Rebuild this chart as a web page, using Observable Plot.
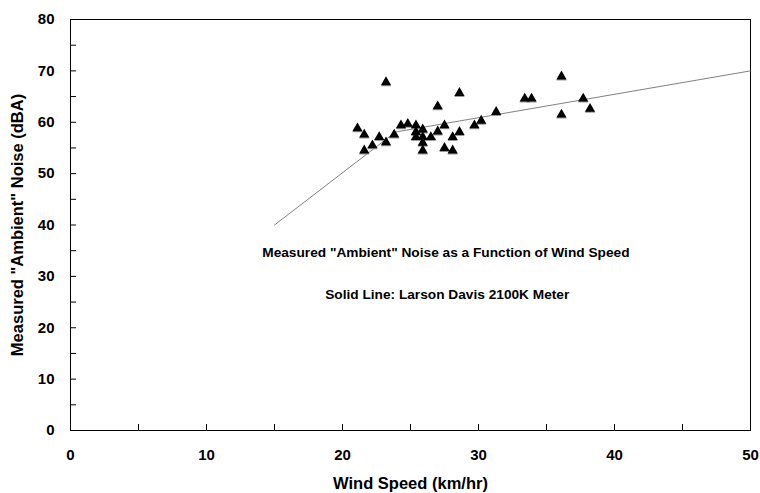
<!DOCTYPE html>
<html><head><meta charset="utf-8">
<script src="https://cdn.jsdelivr.net/npm/d3@7"></script>
<script src="https://cdn.jsdelivr.net/npm/@observablehq/plot@0.6"></script>
<style>body{margin:0;background:#fff}</style>
</head><body><div id="chart"></div>
<script>
const windSpeed = [21.1,21.6,21.6,22.2,22.7,23.2,23.2,23.8,24.3,24.8,25.4,25.4,25.4,25.9,25.9,25.9,25.9,26.5,27.0,27.0,27.5,27.5,28.1,28.1,28.6,28.6,29.7,30.2,31.3,33.4,33.9,36.1,36.1,37.7,38.2];
const noise     = [58.8,57.6,54.5,55.5,57.1,67.8,56.1,57.6,59.4,59.7,59.4,58.1,57.1,58.6,57.1,56.0,54.5,57.1,63.1,58.2,59.4,55.0,57.1,54.5,65.7,58.1,59.4,60.3,62.0,64.6,64.6,68.9,61.5,64.6,62.6];
const meterSpeed = [15, 23.9, 50];
const meterNoise = [40, 58.1, 70];
const xTicks = [0, 10, 20, 30, 40, 50];
const yTicks = [0, 10, 20, 30, 40, 50, 60, 70, 80];
const xMinor = [0, 5, 10, 15, 20, 25, 30, 35, 40, 45, 50];
const yMinor = [0, 5, 10, 15, 20, 25, 30, 35, 40, 45, 50, 55, 60, 65, 70, 75, 80];
const xTitle = "Wind Speed (km/hr)";
const yTitle = 'Measured "Ambient" Noise (dBA)';
const note1 = 'Measured "Ambient" Noise as a Function of Wind Speed';
const note2 = 'Solid Line: Larson Davis 2100K Meter';

const points = windSpeed.map((x, i) => ({x, y: noise[i]}));
const meter = meterSpeed.map((x, i) => ({x, y: meterNoise[i]}));
const FONT = "'Liberation Sans', Arial, sans-serif";

const chart = Plot.plot({
  width: 760, height: 493,
  marginLeft: 70, marginRight: 10, marginTop: 19, marginBottom: 63,
  style: {fontFamily: FONT, fontWeight: "bold", background: "#fff", color: "black"},
  x: {domain: [0, 50], label: null},
  y: {domain: [0, 80], label: null},
  marks: [
    Plot.axisX(xMinor, {tickSize: -6, tickFormat: () => "", label: null}),
    Plot.axisY(yMinor, {tickSize: -6, tickFormat: () => "", label: null}),
    Plot.axisX(xTicks, {tickSize: 0, tickPadding: 19, fontSize: 15, fontWeight: "bold", label: null}),
    Plot.axisY(yTicks, {tickSize: 0, tickPadding: 16, fontSize: 15, fontWeight: "bold", label: null}),
    Plot.frame({stroke: "black", strokeWidth: 1}),
    Plot.line(meter, {x: "x", y: "y", stroke: "#808080", strokeWidth: 1}),
    Plot.dot(points, {x: "x", y: "y", symbol: "triangle", r: 3.8, fill: "#999", dy: 1}),
    Plot.dot(points, {x: "x", y: "y", symbol: "triangle", r: 3.8, fill: "black"}),
    Plot.text([note1], {x: 27.6, y: 34.6, text: d => d, fontSize: 13.7, fontWeight: "bold", textAnchor: "middle", lineAnchor: "middle", fill: "black"}),
    Plot.text([note2], {x: 27.7, y: 26.5, text: d => d, fontSize: 13.7, fontWeight: "bold", textAnchor: "middle", lineAnchor: "middle", fill: "black"}),
    Plot.text([xTitle], {frameAnchor: "bottom", text: d => d, dy: 53, fontSize: 16.5, fontWeight: "bold", textAnchor: "middle", lineAnchor: "middle", fill: "black"}),
    Plot.text([yTitle], {frameAnchor: "left", text: d => d, dx: -53, rotate: -90, fontSize: 16.5, fontWeight: "bold", textAnchor: "middle", lineAnchor: "middle", fill: "black"})
  ]
});
document.getElementById("chart").appendChild(chart);
</script>
</body></html>
